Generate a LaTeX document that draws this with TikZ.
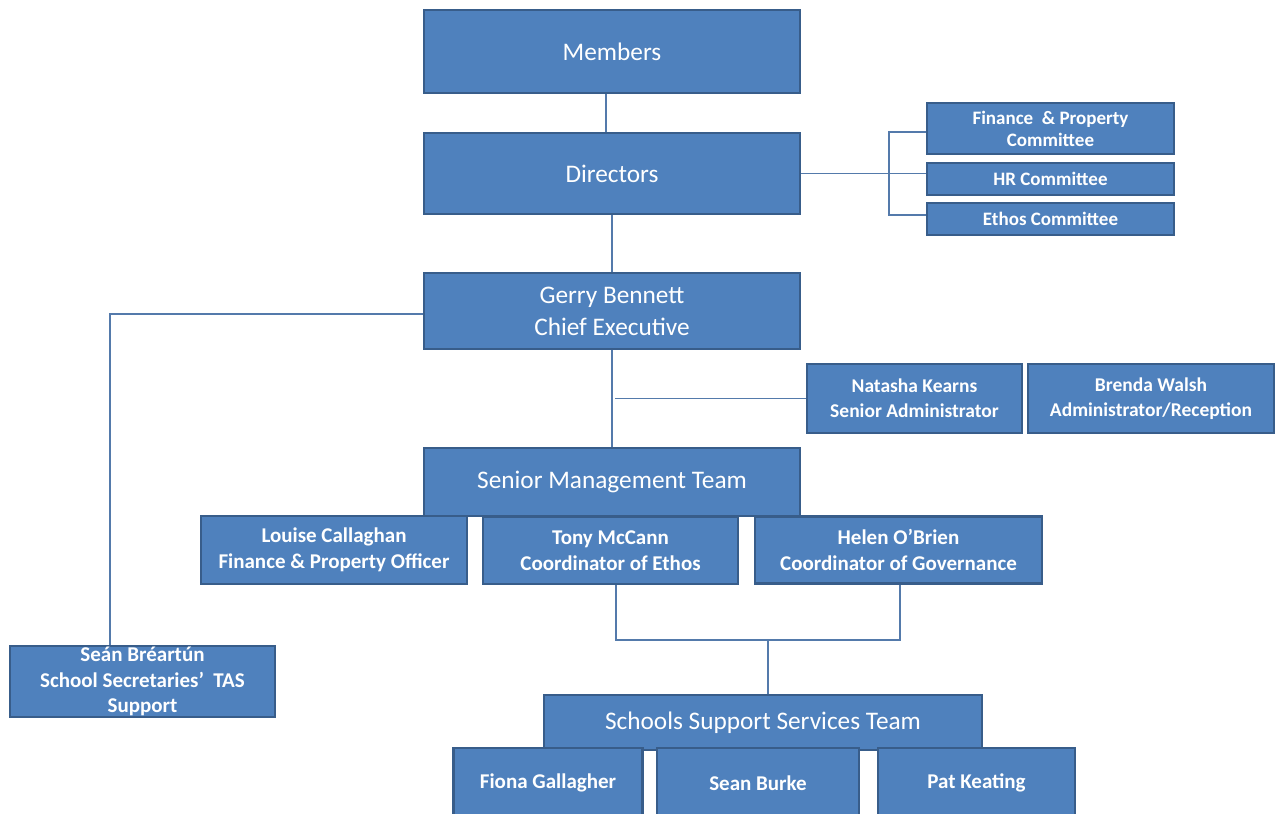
\documentclass[tikz,border=0pt]{standalone}
\usepackage{fontspec}
\setmainfont{Carlito}
\usetikzlibrary{positioning, calc}

\definecolor{boxblue}{RGB}{79,129,189}
\definecolor{edgeblue}{RGB}{56,93,138}
\definecolor{linkblue}{RGB}{84,122,171}

\begin{document}
\begin{tikzpicture}[
    x=1pt, y=-1pt,
    orgbox/.style={rectangle, draw=edgeblue, line width=2.2pt, fill=boxblue,
        text=white, align=center, inner sep=0pt},
    bigbox/.style={orgbox, font=\fontsize{25.3}{32}\selectfont},
    smallbox/.style={orgbox, font=\fontsize{21}{25.5}\selectfont\bfseries},
    adminbox/.style={orgbox, font=\fontsize{19.5}{25}\selectfont\bfseries},
    combox/.style={orgbox, font=\fontsize{19}{22}\selectfont\bfseries},
    link/.style={draw=linkblue, line width=1.4pt},
    ]

    % page frame (same size as the reference)
    \clip (0,0) rectangle (1281,813);

    % ==========================================
    % Board level
    % ==========================================
    \node[bigbox, minimum width=376, minimum height=83] (members) at (612,51.5) {Members};
    \node[bigbox, minimum width=376, minimum height=81] (directors) at (612,173.5) {Directors};

    % Committees
    \node[combox, minimum width=247, minimum height=51] (fincom) at (1050.5,128.5) {Finance~ \& Property\\Committee};
    \node[combox, minimum width=247, minimum height=32] (hrcom) at (1050.5,179) {HR Committee};
    \node[combox, minimum width=247, minimum height=32] (ethoscom) at (1050.5,219) {Ethos Committee};
    \coordinate (combus) at (889,0);

    % ==========================================
    % Executive and office
    % ==========================================
    \node[bigbox, minimum width=376, minimum height=76] (gerry) at (612,311) {Gerry Bennett\\Chief Executive};
    \node[adminbox, minimum width=215, minimum height=69] (natasha) at (914.5,398.5) {Natasha Kearns\\Senior Administrator};
    \node[adminbox, minimum width=246, minimum height=69] (brenda) at (1151,398.5) {Brenda Walsh\\Administrator/Reception};
    \node[smallbox, minimum width=265, minimum height=71] (sean) at (142.5,681.5) {Seán Bréartún\\School Secretaries’~ TAS\\Support};
    \coordinate (seanbus) at (110,0);

    % ==========================================
    % Senior Management Team
    % ==========================================
    \node[bigbox, minimum width=376, minimum height=68] (smt) at (612,482) {Senior Management Team};
    \node[smallbox, minimum width=266, minimum height=68] (louise) at (334,550) {Louise Callaghan\\Finance \& Property Officer};
    \node[smallbox, minimum width=255, minimum height=67] (tony) at (610.5,550.5) {Tony McCann\\Coordinator of Ethos};
    \node[smallbox, minimum width=287, minimum height=67] (helen) at (898.5,550) {Helen O’Brien\\Coordinator of Governance};

    % ==========================================
    % Schools Support Services Team
    % ==========================================
    \node[bigbox, minimum width=438, minimum height=55] (ssst) at (763,722.5) {Schools Support Services Team};
    \foreach \name/\x/\w/\label in {
        fiona/548/189/Fiona Gallagher,
        burke/758/202/Sean Burke,
        pat/976.5/197/Pat Keating}
    {
        \node[smallbox, minimum width=\w, minimum height=70] (\name) at (\x,783) {\label};
    }

    % ==========================================
    % Connectors
    % ==========================================
    \draw[link] ([xshift=-6pt]members.south) -- ([xshift=-6pt]directors.north);
    \draw[link] (directors.south) -- (gerry.north);
    \draw[link] (directors.east) -- (directors.east -| hrcom.west);
    \draw[link] ([yshift=-3.5pt]fincom.west) -- ([yshift=-3.5pt]fincom.west -| combus)
        -- ([yshift=4pt]ethoscom.west -| combus) -- ([yshift=4pt]ethoscom.west);
    \draw[link] ([yshift=-3pt]gerry.west) -| (sean.north -| seanbus);
    \draw[link] (gerry.south) -- (smt.north);
    \draw[link] ([xshift=3pt]gerry.south |- natasha.west) -- (natasha.west);
    \coordinate (tsplit) at (768,640);
    \draw[link] ([xshift=5.5pt]tony.south) |- (tsplit) -| ([xshift=1.5pt]helen.south);
    \draw[link] (tsplit) -- (tsplit |- ssst.north);

\end{tikzpicture}
\end{document}
